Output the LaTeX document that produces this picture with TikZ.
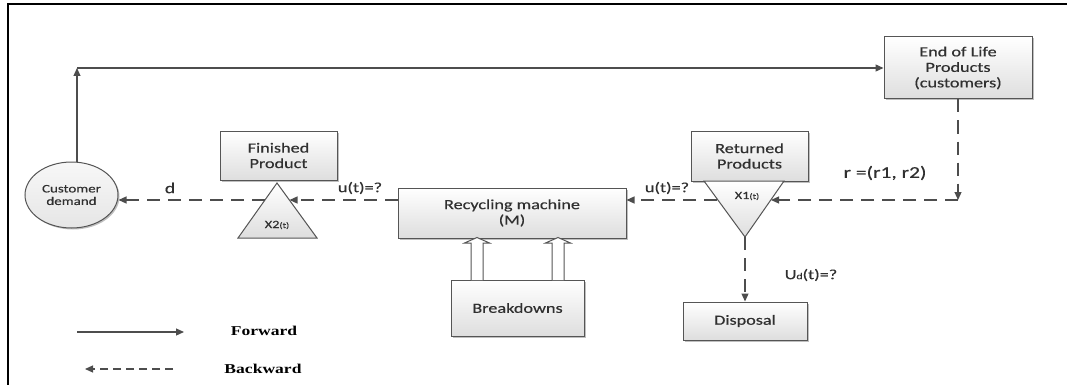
\documentclass[tikz,border=0pt]{standalone}
\usepackage{fontspec}
\newfontfamily\cf[FakeStretch=1.3,FakeBold=0.4]{Carlito}
\newfontfamily\tf[FakeStretch=1.3]{Liberation Serif}
\usetikzlibrary{arrows.meta,shapes.geometric,shadows}
\definecolor{ln}{HTML}{4D4D4D}
\definecolor{tx}{HTML}{303030}
\definecolor{bd}{HTML}{555555}
\begin{document}
\begin{tikzpicture}[x=1pt,y=-1pt,
  every node/.style={font=\cf\fontsize{14}{15.5}\selectfont, text=tx},
  shad/.style={drop shadow={shadow xshift=1.5pt, shadow yshift=-1.5pt, opacity=0.25, fill=black}},
  box/.style={draw=bd, line width=1pt, top color=white, bottom color=black!13, align=center, inner sep=0pt, shad},
  tri/.style={draw=bd, line width=1pt, top color=white, bottom color=black!13},
  fwd/.style={draw=ln, line width=1.2pt, -{Triangle[length=8pt,width=7pt]}},
  bwd/.style={fwd, dash pattern=on 13pt off 8pt},
  lbl/.style={inner sep=0pt},
  blk/.style={draw=bd, line width=1pt, fill=white}
]
\useasboundingbox (0,0) rectangle (1067,385);
\draw[line width=2pt, black] (1067,4) -- (8,4) -- (8,385);

% nodes
\node[box, minimum width=148pt, minimum height=62pt] (eol) at (958,68) {End of Life\\Products\\(customers)};
\node[box, minimum width=117pt, minimum height=49pt] (fp) at (278.5,155.5) {Finished\\Product};
\node[box, minimum width=117pt, minimum height=50pt] (rp) at (749.5,156) {Returned\\Products};
\node[box, minimum width=228pt, minimum height=50pt] (rm) at (512,213) {Recycling machine\\(M)};
\node[box, minimum width=133pt, minimum height=56pt] (brk) at (517.5,308) {Breakdowns};
\node[box, minimum width=124pt, minimum height=38pt] (dp) at (745,321) {Disposal};
\node[ellipse, draw=bd, line width=1pt, top color=black!3, bottom color=black!10, shad,
      minimum width=93pt, minimum height=66pt, inner sep=0pt, align=center,
      font=\cf\fontsize{11.5}{12.5}\selectfont] (cd) at (71.5,195) {Customer\\demand};

% triangles
\path[tri] (277,183) -- (317,238) -- (238,238) -- cycle;
\path[tri] (704,181) -- (784,181) -- (745,237) -- cycle;
\node[lbl] (x2t) at (277,225) {\fontsize{11}{11}\selectfont X2\fontsize{8}{8}\selectfont(t)};
\node[lbl] (x1t) at (747,196) {\fontsize{11}{11}\selectfont X1\fontsize{8}{8}\selectfont(t)};
\coordinate (x2l) at (264.5,200);
\coordinate (x2r) at (289.5,200);
\coordinate (x1l) at (717,200);
\coordinate (x1r) at (771,200);
\coordinate (x1a) at (745,237);

% forward connectors
\coordinate (cdt) at ([xshift=5.5pt]cd.north);
\coordinate (c1) at (cdt |- eol.west);
\draw[fwd] (cdt) -- (c1);
\draw[fwd] (c1) -- (eol.west);

% backward connectors
\coordinate (c2) at (eol.south |- x1r);
\draw[bwd] (eol.south) -- (c2);
\draw[bwd] (c2) -- (x1r);
\draw[bwd] (x1l) -- (rm.east |- x1l);
\draw[bwd] (rm.west |- x1l) -- (x2r);
\draw[bwd] (x2l) -- (cd.east |- x2l);
\draw[bwd] (x1a) -- (dp.north);

% block arrows from Breakdowns to Recycling machine
\foreach \bx in {477,558}{
  \draw[blk] (\bx-6,280) -- (\bx-6,243) -- (\bx-12.5,243) -- (\bx,237.5) -- (\bx+12.5,243) -- (\bx+6,243) -- (\bx+6,280);
}

% labels
\node[lbl, font=\cf\fontsize{15}{15}\selectfont] (ld) at (170,188) {d};
\node[lbl] (lu2) at (360,188) {u(t)=?};
\node[lbl] (lu1) at (667,188) {u(t)=?};
\node[lbl, font=\cf\fontsize{16.5}{17}\selectfont] (lr) at (885,173) {r =(r1, r2)};
\node[lbl] (lud) at (811,275) {U{\fontsize{9}{9}\selectfont d}(t)=?};

% legend
\coordinate (f1) at (77,332);
\coordinate (f2) at (184,332);
\draw[fwd] (f1) -- (f2);
\coordinate (b1) at (173,369);
\coordinate (b2) at (85,369);
\draw[fwd, dash pattern=on 8pt off 5pt] (b1) -- (b2);
\node[lbl, font=\tf\bfseries\fontsize{13.5}{14}\selectfont, text=black] (lf) at (264,331) {Forward};
\node[lbl, font=\tf\bfseries\fontsize{13.5}{14}\selectfont, text=black] (lb) at (263,369) {Backward};
\end{tikzpicture}
\end{document}
